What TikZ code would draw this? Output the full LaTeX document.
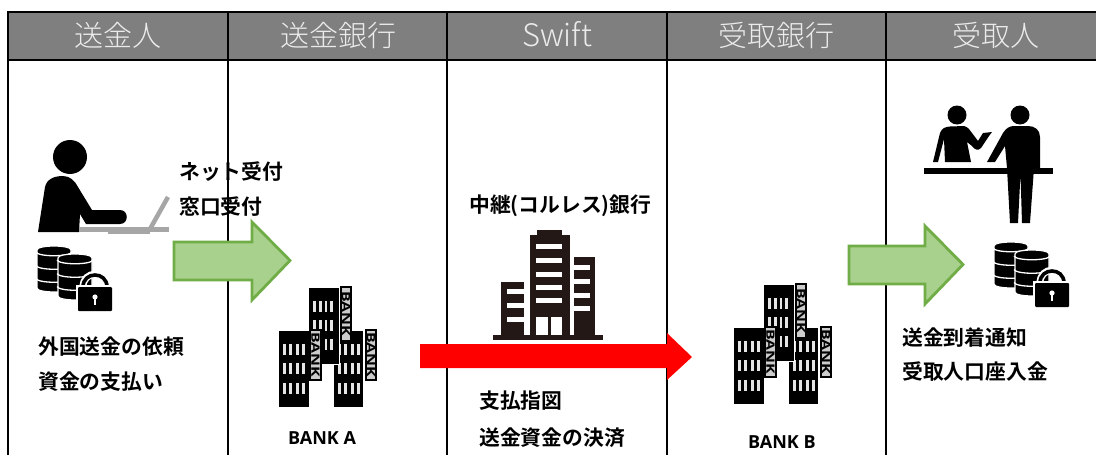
\documentclass[tikz,border=0pt]{standalone}
\usepackage{fontspec}
\newfontfamily\cjk{Noto Sans CJK JP}[BoldFont={Noto Sans CJK JP Bold}]
\newfontfamily\cjklight{Noto Sans CJK JP Light}
\newfontfamily\latinb{Open Sans}[BoldFont={Open Sans Bold}]
\definecolor{hdr}{HTML}{7F7F7F}
\definecolor{grn}{HTML}{A9D18E}
\definecolor{grnd}{HTML}{70AD47}
\definecolor{lap}{HTML}{A6A6A6}
\definecolor{ink}{HTML}{231815}
\tikzset{
  grid line/.style={line width=2.2pt,black},
  head label/.style={anchor=base,inner sep=0pt,text=white!92!black,font=\cjklight\fontsize{29}{29}\selectfont},
  body label/.style={anchor=base west,inner sep=0pt,text=black,font=\cjk\bfseries\fontsize{20.8}{20.8}\selectfont},
  bank label/.style={anchor=base west,inner sep=0pt,text=black,font=\latinb\bfseries\fontsize{18}{18}\selectfont},
  green arrow/.style={fill=grn,draw=grnd,line width=2.8pt,line join=miter},
  cyl stripe/.style={draw=white,line width=1.3pt},
  tower/.style={fill=black,draw=white,line width=1pt},
  sign/.style={fill=white!80!black,draw=black,line width=1.6pt},
  sign text/.style={rotate=-90,xscale=1.38,inner sep=0pt,text=black,font=\latinb\bfseries\fontsize{11.5}{11.5}\selectfont},
  win/.style={fill=white!90!black,draw=none},
  pics/cylinder/.style={code={
    \path[fill=black,draw=white,line width=1.2pt] (0,4) .. controls (0,-1.3) and (34,-1.3) .. (34,4) -- (34,42)
      .. controls (34,47.3) and (0,47.3) .. (0,42) -- cycle;
    \foreach \sy in {6,19.5,32.5} {
      \draw[cyl stripe] (-1,\sy) .. controls (1,\sy+5) and (33,\sy+5) .. (35,\sy);
    }
  }},
  pics/dblock/.style={code={
    \pic at (0,0) {cylinder};
    \pic at (21,8) {cylinder};
    \draw[white,line width=7pt] (46,41) .. controls (46,24) and (70,24) .. (70,41);
    \draw[black,line width=3.6pt] (46,41) .. controls (46,25) and (70,25) .. (70,41);
    \fill[white] (39,39) rectangle (77,67);
    \fill[black,rounded corners=1pt] (41,41) rectangle (75,65);
    \fill[white] (58,51) circle[radius=2.6];
    \fill[white] (56.8,51) rectangle (59.2,59);
  }},
  pics/windows/.style={code={
    \foreach \wy in {0,19,39} \foreach \wx in {0,6.4,12.8,19.2} {
      \fill[win] (\wx,\wy) rectangle (\wx+2.7,\wy+10.5);
    }
  }},
  pics/bankgroup/.style={code={
    % right block
    \path[tower] (55,43) rectangle (85,120);
    \pic at (60,57) {windows};
    \path[sign] (88,43) rectangle (98,93);
    \node[sign text] (sgr) at (93,68) {BANK};
    % back block
    \path[tower] (30,0) rectangle (61,77);
    \foreach \wy in {14,33,52} \foreach \wx in {35,40.8,46.6,52.4} {
      \fill[win] (\wx,\wy) rectangle (\wx+2.7,\wy+10.5);
    }
    \path[sign] (63,0) rectangle (73,54);
    \node[sign text] (sgb) at (68,27) {BANK};
    % left block
    \path[tower] (0,43) rectangle (31,120);
    \pic at (5,57) {windows};
    \path[sign] (32,43) rectangle (43,93);
    \node[sign text] (sgl) at (37.5,68) {BANK};
  }}
}
\begin{document}
\begin{tikzpicture}[x=1pt,y=-1pt]
\useasboundingbox (0,0) rectangle (1096,455);
\fill[white] (0,0) rectangle (1096,455);
% header band
\fill[hdr] (8,12) rectangle (1096,60);
\foreach \lx in {8,228,447,667,886} {
  \draw[grid line] (\lx,12) -- (\lx,455);
}
\draw[grid line] (7,12) -- (1096,12);
\draw[grid line] (7,60) -- (1096,60);
\node[head label] (h1) at (118,46) {送金人};
\node[head label] (h2) at (338,46) {送金銀行};
\node[head label,font=\cjklight\fontsize{31}{31}\selectfont] (h3) at (557,46) {Swift};
\node[head label] (h4) at (776,46) {受取銀行};
\node[head label] (h5) at (996,46) {受取人};

% person at laptop
\fill[black] (70,157) circle[radius=17];
\fill[black] (38,232) -- (45,187) .. controls (47,178) and (56,176) .. (63,176)
  .. controls (70,176) and (75,181) .. (78,187) -- (92,210) -- (120,210)
  .. controls (129,210) and (129,224) .. (120,224) -- (86,224) -- (80,214) -- (79,232) -- cycle;
\fill[lap] (79,227) rectangle (169,232);
\fill[lap] (108,232) rectangle (150,233.5);
\draw[lap,line width=4.5pt] (150,229) -- (168,197);
\pic at (37,246) {dblock};

% receptionist and customer
\fill[black] (957,115) circle[radius=9.5];
\fill[black] (1020,115) circle[radius=9.5];
\fill[black] (933,162) -- (940,133) .. controls (942,128) and (945,127) .. (950,126.5) -- (964,126)
  .. controls (968,127) and (970,130) .. (972,133) -- (978,141) -- (983,133) -- (992,132) -- (989,136)
  -- (981,148) .. controls (978,151) and (975,150) .. (972,146) -- (967,142) -- (971,162) -- (945,162)
  -- (944,139) -- (938,162) -- cycle;
\fill[black] (987,162) -- (1003,133) .. controls (1006,128) and (1010,126) .. (1014,126) -- (1028,126)
  .. controls (1035,126) and (1040,130) .. (1040,137) -- (1040,168) -- (1034,168) -- (1030,223) -- (1022,223)
  -- (1020.5,174) -- (1018,223) -- (1010,223) -- (1007,168) -- (1005,146) -- (995,162) -- cycle;
\fill[black] (924,168) rectangle (1053,174);
\pic at (994,242) {dblock};

% central tower block
\fill[ink] (493,335) rectangle (603,340);
\fill[ink] (530,235) rectangle (570,335);
\fill[ink] (537,230) rectangle (562,235);
\fill[ink] (574,257) rectangle (595,335);
\fill[ink] (501,282) rectangle (524,335);
\foreach \sy in {244,257.5,272,285,298} \fill[white] (536,\sy) rectangle (562,\sy+5);
\fill[white] (536,317) rectangle (548,335);
\fill[white] (551,317) rectangle (562,335);
\foreach \sy in {265,279,293,306} \fill[white] (574,\sy) rectangle (590,\sy+5);
\foreach \sy in {289,303,317} \fill[white] (507,\sy) rectangle (524,\sy+5);

% banks
\pic at (278,287) {bankgroup};
\pic at (733,284) {bankgroup};

% block arrows
\path[green arrow] (174,242) -- (252,242) -- (252,222) -- (290,260.5) -- (252,300) -- (252,280) -- (174,280) -- cycle;
\path[green arrow] (849,246) -- (925,246) -- (925,226) -- (963,264.5) -- (925,304) -- (925,284) -- (849,284) -- cycle;
\fill[red] (420,344) -- (667,344) -- (667,333) -- (692,357) -- (667,380) -- (667,368) -- (420,368) -- cycle;

% texts
\node[body label] (t1) at (179,179) {ネット受付};
\node[body label] (t2) at (179,214) {窓口受付};
\node[body label] (t3) at (38,354) {外国送金の依頼};
\node[body label] (t4) at (38,389) {資金の支払い};
\node[body label] (t5) at (469,212) {中継(コルレス)銀行};
\node[body label] (t6) at (479,408) {支払指図};
\node[body label] (t7) at (479,445) {送金資金の決済};
\node[body label] (t8) at (902,345) {送金到着通知};
\node[body label] (t9) at (902,379) {受取人口座入金};
\node[bank label] (ba) at (288,444) {BANK A};
\node[bank label] (bb) at (748,448) {BANK B};
\end{tikzpicture}
\end{document}
